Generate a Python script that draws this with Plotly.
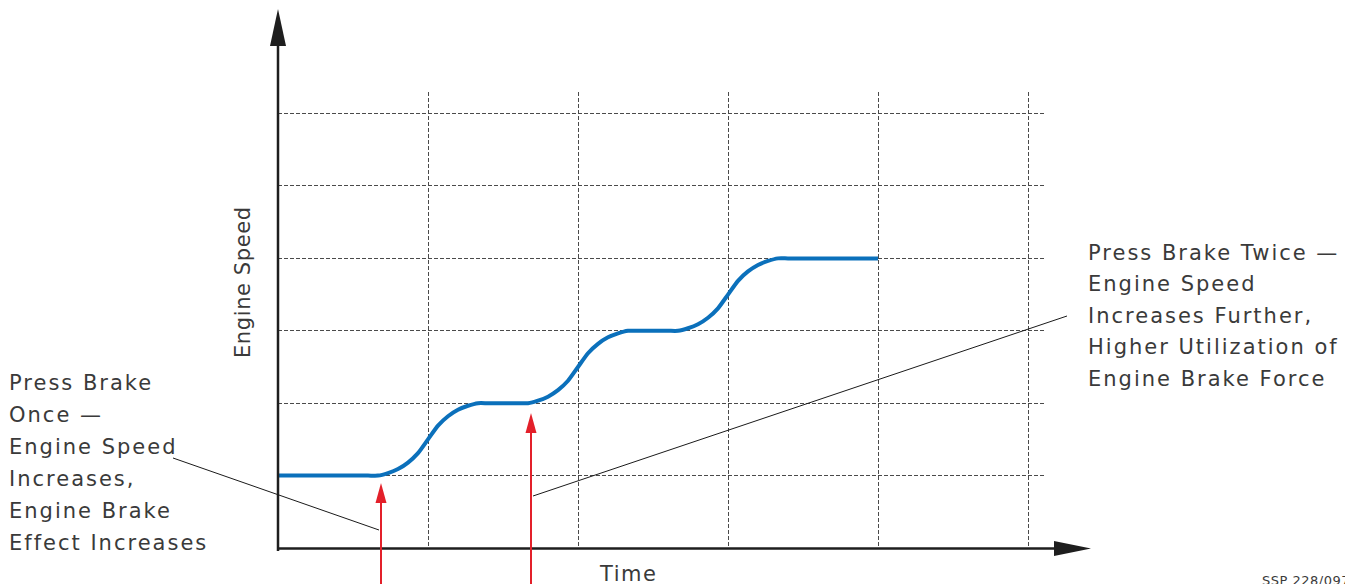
import plotly.graph_objects as go

# ---- data (x in time units, y in engine-speed units) ----
time_vals = [0, 1.0, 1.8, 2.0, 2.2, 2.4, 2.6, 2.8, 3.0, 3.2, 3.4, 3.6, 3.8, 4.0, 4.2,
             4.8, 5.0, 5.2, 5.4, 5.6, 5.8, 6.0, 6.2, 6.4, 6.6, 6.8, 7.0, 7.2,
             7.8, 8.0, 8.2, 8.4, 8.6, 8.8, 9.0, 9.2, 9.4, 9.6, 9.8, 10.0, 10.2, 11.0, 12]
speed_vals = [1, 1, 1, 1.0, 1.035, 1.09, 1.18, 1.31, 1.5, 1.69, 1.82, 1.91, 1.965, 2.0, 2.0,
              2.0, 2.0, 2.035, 2.09, 2.18, 2.31, 2.5, 2.69, 2.82, 2.91, 2.965, 3.0, 3.0,
              3.0, 3.0, 3.035, 3.09, 3.18, 3.31, 3.5, 3.69, 3.82, 3.91, 3.965, 4.0, 4.0, 4, 4]
x_grid = [3, 6, 9, 12, 15]
y_grid = [1, 2, 3, 4, 5, 6]
x_range = [0, 15.32]
y_range = [0, 6.298]

left_text = ["Press Brake", "Once \u2014", "Engine Speed", "Increases,",
             "Engine Brake", "Effect Increases"]
right_text = ["Press Brake Twice \u2014", "Engine Speed", "Increases Further,",
              "Higher Utilization of", "Engine Brake Force"]
y_title = "Engine Speed"
x_title = "Time"
ref_code = "SSP 228/097"

# ---- layout geometry (page pixels; page has an 8px body margin) ----
OFF = 8
W, H = 1353, 584
L, R, T, B = 278, 1044, 92, 548


def px(x):
    return (x - L) / (R - L)


def py(y):
    return (B - y) / (B - T)


FONT = "DejaVu Sans"
TXT = "#3a3a3a"
AX = "#1e1e1e"
RED = "#e3202a"


def sp(s, ls=2):
    return f'<span style="letter-spacing:{ls}px">{s}</span>'


fig = go.Figure()
fig.add_trace(go.Scatter(
    x=time_vals, y=speed_vals, mode="lines",
    line=dict(color="#0b70bb", width=4, shape="spline", smoothing=0.6),
    hoverinfo="skip", showlegend=False))

shapes = []
# axes lines
shapes.append(dict(type="line", xref="paper", yref="paper",
                   x0=px(278), x1=px(278), y0=py(551), y1=py(40),
                   line=dict(color=AX, width=2.5)))
shapes.append(dict(type="line", xref="paper", yref="paper",
                   x0=px(277), x1=px(1060), y0=py(548.5), y1=py(548.5),
                   line=dict(color=AX, width=2.5)))
# arrow heads
shapes.append(dict(type="path", xref="paper", yref="paper",
                   xsizemode="pixel", ysizemode="pixel",
                   xanchor=px(278), yanchor=py(9),
                   path="M0,0 L-8,-37 L8,-37 Z",
                   fillcolor=AX, line=dict(width=0)))
shapes.append(dict(type="path", xref="paper", yref="paper",
                   xsizemode="pixel", ysizemode="pixel",
                   xanchor=px(1091), yanchor=py(548.5),
                   path="M0,0 L-37,7.5 L-37,-7.5 Z",
                   fillcolor=AX, line=dict(width=0)))
# red arrows
for xr, tip in [(381, 483), (531, 413)]:
    shapes.append(dict(type="line", xref="paper", yref="paper",
                       x0=px(xr), x1=px(xr), y0=py(600), y1=py(tip + 18),
                       line=dict(color=RED, width=2)))
    shapes.append(dict(type="path", xref="paper", yref="paper",
                       xsizemode="pixel", ysizemode="pixel",
                       xanchor=px(xr), yanchor=py(tip),
                       path="M0,0 L-5.5,-20 L5.5,-20 Z",
                       fillcolor=RED, line=dict(width=0)))
# callout lines
shapes.append(dict(type="line", xref="paper", yref="paper",
                   x0=px(173), y0=py(458), x1=px(379), y1=py(530),
                   line=dict(color="#1a1a1a", width=1)))
shapes.append(dict(type="line", xref="paper", yref="paper",
                   x0=px(533), y0=py(496), x1=px(1067), y1=py(316),
                   line=dict(color="#1a1a1a", width=1)))

ann = []
for i, t in enumerate(left_text):
    ann.append(dict(text=sp(t), xref="paper", yref="paper", x=px(7), y=py(382.5 + 32 * i),
                    xanchor="left", yanchor="middle", showarrow=False,
                    font=dict(family=FONT, size=21, color=TXT)))
for i, t in enumerate(right_text):
    ann.append(dict(text=sp(t, 2.0), xref="paper", yref="paper", x=px(1086), y=py(252.5 + 31.5 * i),
                    xanchor="left", yanchor="middle", showarrow=False,
                    font=dict(family=FONT, size=21, color=TXT)))
ann.append(dict(text=sp(y_title, 0.6), xref="paper", yref="paper", x=px(243), y=py(282),
                xanchor="center", yanchor="middle", textangle=-90, showarrow=False,
                font=dict(family=FONT, size=21, color=TXT)))
ann.append(dict(text=sp(x_title, 1.5), xref="paper", yref="paper", x=px(628), y=py(574),
                xanchor="center", yanchor="middle", showarrow=False,
                font=dict(family=FONT, size=21, color=TXT)))
ann.append(dict(text=sp(ref_code, 0.5), xref="paper", yref="paper", x=px(1260), y=py(580),
                xanchor="left", yanchor="middle", showarrow=False,
                font=dict(family=FONT, size=13, color=TXT)))

grid = dict(showgrid=True, gridcolor="#4a4a4a", gridwidth=1, griddash="4px,2px",
            zeroline=False, showline=False, ticks="", showticklabels=False, fixedrange=True)
fig.update_layout(
    width=W, height=H,
    margin=dict(l=L - OFF, r=W - (R - OFF), t=T - OFF, b=H - (B - OFF)),
    paper_bgcolor="white", plot_bgcolor="white",
    xaxis=dict(range=x_range, tickvals=x_grid, **grid),
    yaxis=dict(range=y_range, tickvals=y_grid, **grid),
    shapes=shapes, annotations=ann, showlegend=False)

fig.write_html("out.html")
